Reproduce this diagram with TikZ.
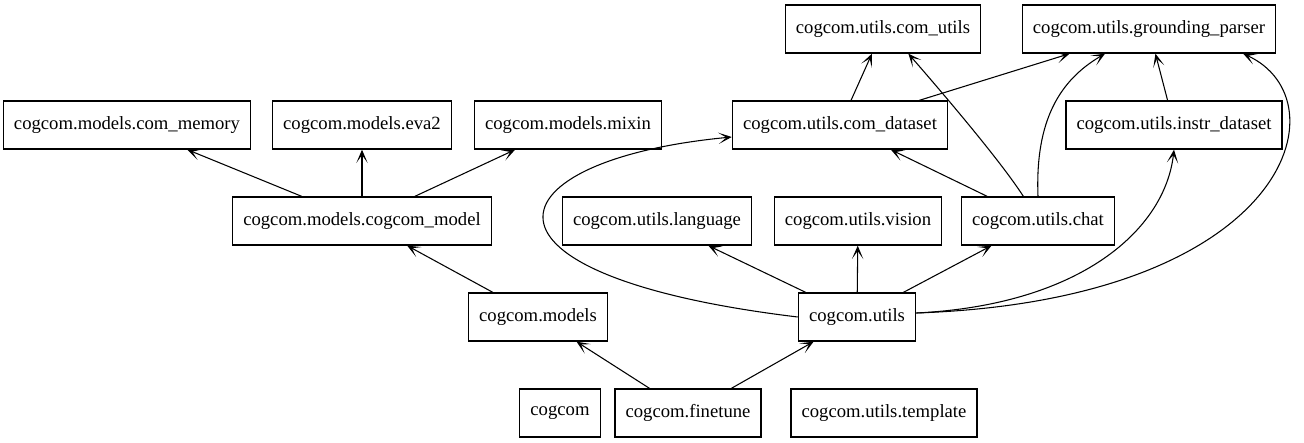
\documentclass[tikz,border=0pt]{standalone}
\usepackage{fontspec}
\setmainfont{Liberation Serif}
\usetikzlibrary{arrows.meta}

\begin{document}
\begin{tikzpicture}[
  x=0.75pt, y=-0.75pt,
  module/.style={rectangle, draw, line width=1pt, minimum height=36pt,
                 inner xsep=8pt, font=\fontsize{14}{16}\selectfont},
  dep/.style={draw, line width=0.8pt,
              -{Stealth[length=10pt, width=8.5pt, inset=6pt]}}
]
  \useasboundingbox (0,0) rectangle (1304,443);
  % modules, placed at their pixel centres
  \foreach \x/\y/\nm/\lbl in {
    883/29/cu/cogcom.utils.com\_utils, 1149/29/gp/cogcom.utils.grounding\_parser,
    127/125/mem/cogcom.models.com\_memory, 362/125/eva/cogcom.models.eva2,
    568/125/mix/cogcom.models.mixin, 840/125/cd/cogcom.utils.com\_dataset,
    1174/125/id/cogcom.utils.instr\_dataset,
    362/221/cm/cogcom.models.cogcom\_model, 657/221/lang/cogcom.utils.language,
    858/221/vis/cogcom.utils.vision, 1038/221/chat/cogcom.utils.chat,
    538/317/mod/cogcom.models, 857/317/ut/cogcom.utils,
    560/413/cc/cogcom, 688/413/ft/cogcom.finetune, 884/413/tpl/cogcom.utils.template}
    {\node[module] (\nm) at (\x,\y) {\lbl};}
  % straight imports
  \foreach \s/\t in {cm/mem, cm/eva, cm/mix, mod/cm, ft/mod, ft/ut,
                     ut/lang, ut/vis, ut/chat, chat/cd, cd/cu, cd/gp, id/gp}
    \draw[dep] (\s) -- (\t);
  % curved imports
  \draw[dep] (ut.west) .. controls (450,275) and (490,160) .. ([yshift=-9pt]cd.west);
  \draw[dep] ([yshift=3pt]ut.east) .. controls (1080,305) and (1165,230) .. (id.south);
  \draw[dep] ([yshift=3pt]ut.east) .. controls (1290,300) and (1345,100) .. ([xshift=-25pt]gp.south east);
  \draw[dep] ([xshift=-11pt]chat.north) .. controls (1000,160) and (940,90) .. ([xshift=19pt]cu.south);
  \draw[dep] (chat.north) .. controls (1035,120) and (1060,80) .. ([xshift=-33pt]gp.south);
\end{tikzpicture}
\end{document}
